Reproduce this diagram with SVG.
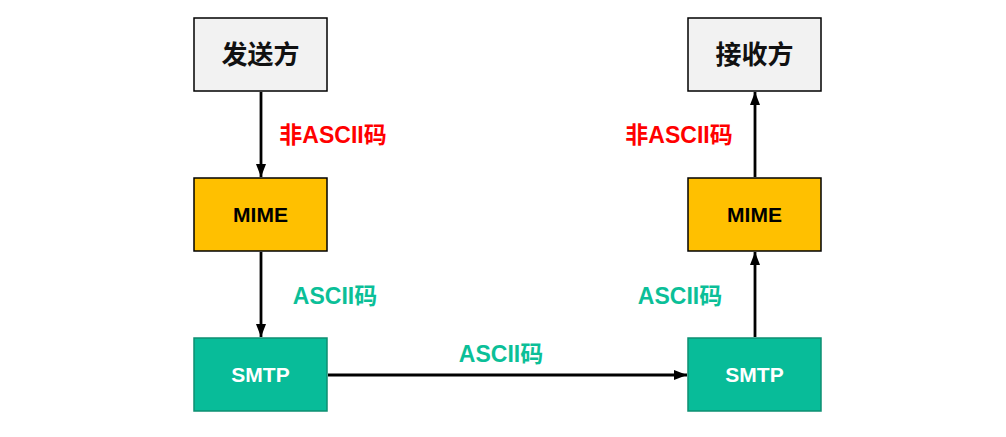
<svg xmlns="http://www.w3.org/2000/svg" width="1006" height="437" viewBox="0 0 1006 437">
<defs>
<marker id="ah" viewBox="0 0 13 10" refX="13" refY="5" markerWidth="13" markerHeight="10" markerUnits="userSpaceOnUse" orient="auto">
<path d="M0,0 L13,5 L0,10 Z" fill="#000"/>
</marker>
<style>
.gray{fill:#f2f2f2;stroke:#000;stroke-width:1.5}
.mime{fill:#ffc000;stroke:#000;stroke-width:1.5}
.smtp{fill:#08bc99;stroke:#0d8f72;stroke-width:1.5}
.t{font-family:"Liberation Sans","Noto Sans CJK SC",sans-serif;font-weight:bold;text-anchor:middle;dominant-baseline:central}
.big{font-size:26px;fill:#111}
.mid{font-size:21px;fill:#000}
.wh{font-size:21px;fill:#fff}
.red{font-size:23px;fill:#ff0000}
.teal{font-size:23px;fill:#0bbf98}
.c{stroke:#000;stroke-width:2.8;fill:none}
</style>
</defs>
<rect width="1006" height="437" fill="#fff"/>
<g id="sender"><rect class="gray" x="194" y="18" width="133" height="73"/><text class="t big" x="260.5" y="54.5">发送方</text></g>
<g id="mime-left"><rect class="mime" x="194" y="178" width="133" height="73"/><text class="t mid" x="260.5" y="214.5">MIME</text></g>
<g id="smtp-left"><rect class="smtp" x="194" y="338" width="133" height="73"/><text class="t wh" x="260.5" y="374.5">SMTP</text></g>
<g id="receiver"><rect class="gray" x="688" y="18" width="133" height="73"/><text class="t big" x="754.5" y="54.5">接收方</text></g>
<g id="mime-right"><rect class="mime" x="688" y="178" width="133" height="73"/><text class="t mid" x="754.5" y="214.5">MIME</text></g>
<g id="smtp-right"><rect class="smtp" x="688" y="338" width="133" height="73"/><text class="t wh" x="754.5" y="374.5">SMTP</text></g>
<g id="connectors">
<line class="c" x1="261" y1="92" x2="261" y2="177" marker-end="url(#ah)"/>
<line class="c" x1="261" y1="252" x2="261" y2="337" marker-end="url(#ah)"/>
<line class="c" x1="328" y1="375" x2="687" y2="375" marker-end="url(#ah)"/>
<line class="c" x1="755" y1="337" x2="755" y2="252" marker-end="url(#ah)"/>
<line class="c" x1="755" y1="177" x2="755" y2="92" marker-end="url(#ah)"/>
</g>
<g id="labels">
<text class="t red" x="333" y="135">非ASCII码</text>
<text class="t teal" x="335" y="296">ASCII码</text>
<text class="t teal" x="501" y="354">ASCII码</text>
<text class="t red" x="679" y="135">非ASCII码</text>
<text class="t teal" x="680" y="296">ASCII码</text>
</g>
</svg>
